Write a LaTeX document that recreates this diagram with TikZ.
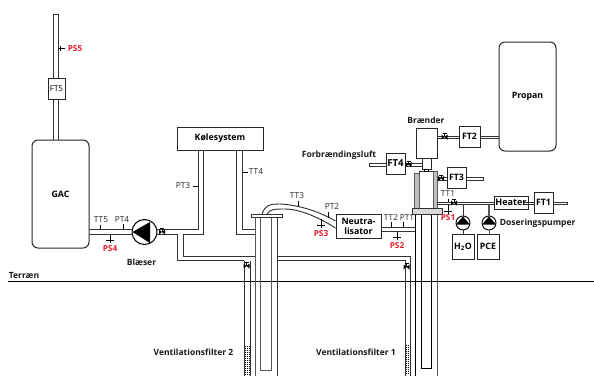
\documentclass[tikz,border=0pt]{standalone}
\usepackage{fontspec}
\setmainfont{Open Sans}
\definecolor{psred}{RGB}{225,30,45}
\tikzset{
  boxn/.style={draw=black!85,line width=0.75pt,fill=white,inner sep=0pt,align=center,font=\fontsize{6.6}{7.6}\selectfont\bfseries},
  tank/.style={boxn,rounded corners=4.5pt},
  lbl/.style={inner sep=0pt,font=\fontsize{6.2}{7}\selectfont,text=black!85},
  blbl/.style={inner sep=0pt,font=\fontsize{6.4}{7}\selectfont\bfseries,text=black!90},
  redl/.style={inner sep=0pt,font=\fontsize{6.2}{7}\selectfont\bfseries,text=psred},
  pipe/.style={draw=black!80,line width=0.7pt},
  thin pipe/.style={draw=black!65,line width=0.7pt},
  tick/.style={draw=black,line width=0.55pt},
  wall/.style={draw=black!65,fill=black!25,line width=0.6pt}
}
\newcommand{\valvemark}[2]{%
  \fill[black] (#1-3,#2-2.5)--(#1+3,#2+2.5)--(#1+3,#2-2.5)--(#1-3,#2+2.5)--cycle;
  \draw[black,line width=0.6pt] (#1,#2)--(#1,#2-3.5) (#1-2,#2-3.5)--(#1+2,#2-3.5);}
\newcommand{\crossmark}[3]{\draw[tick] (#1,#2)--(#1,#3) (#1-4,#3-3)--(#1+4,#3-3);}
\newcommand{\hatchmark}[2]{\foreach \yy in {#2,#2.,2.5} {}%
  \foreach \yy in {0,2,...,30} {\draw[black,line width=0.6pt,dash pattern=on 1pt off 0.5pt] (#1,{346+\yy})--(#1+6,{346+\yy});}}
\begin{document}
\begin{tikzpicture}[x=0.75pt,y=-0.75pt]
\useasboundingbox (0,0) rectangle (594,376);
% ---- ground line
\coordinate (gl) at (8,281.5);
\coordinate (gr) at (594,281.5);
\draw[black,line width=0.8pt] (gl)--(gr);
\node[blbl,anchor=west] (terr) at (8.5,275) {Terræn};
% ---- boxes
\node[tank,minimum width=57\pgflinewidth*0+42.75pt,minimum height=81pt] (gac) at (60.5,194) {GAC};
\node[tank,minimum width=42.75pt,minimum height=81.75pt] (propan) at (527.5,96.5) {Propan};
\node[boxn,minimum width=64.5pt,minimum height=17.25pt] (kol) at (220,138.5) {Kølesystem};
\node[boxn,minimum width=33.75pt,minimum height=18pt,font=\fontsize{6.6}{7.4}\selectfont\bfseries] (neu) at (358.5,226) {Neutra-\\lisator};
% ---- vertical stack above GAC
\draw[pipe] (53,140)--(53,14)--(58,14)--(58,140);
\node[boxn,minimum width=12.75pt,minimum height=15.75pt,font=\fontsize{6}{7}\selectfont] (ft5) at (56.5,88.5) {FT5};
\coordinate (ps5a) at (58,48.5);
\draw[tick] (ps5a)--(65,48.5) (60.5,46)--(60.5,51);
\node[redl,anchor=west] (ps5) at (67.5,48.5) {PS5};
% ---- GAC to pump and cooling loop
\draw[pipe] (gac.east |- 0,229.5)--(198,229.5)--(198,150);
\draw[pipe] (gac.east |- 0,234.5)--(177.5,234.5)--(177.5,260.5)--(244,260.5);
\draw[pipe] (183,234.5)--(203,234.5)--(203,150);
\draw[pipe] (183,234.5)--(183,256.5)--(255,256.5);
\draw[pipe] (236,150)--(236,234.5)--(255,234.5);
\draw[pipe] (242,150)--(242,229.5)--(255,229.5);
\node[lbl] (tt5) at (101,220) {TT5};
\draw[tick] (100,224.5)--(100,229.5);
\node[lbl] (pt4) at (122,220) {PT4};
\draw[tick] (123.5,224)--(123.5,229.5);
\crossmark{110}{234.5}{243}
\node[redl] (ps4) at (110,249) {PS4};
\node[blbl] (bl) at (141.5,262.5) {Blæser};
\node[draw=black,line width=0.8pt,fill=white,circle,minimum size=18.75pt,inner sep=0pt] (pump) at (144.5,232) {};
\fill[black] (132.5,232)--(150,222)--(150,243)--cycle;
\valvemark{162}{232}
% ---- cooling labels
\node[lbl] (pt3) at (183,186) {PT3};
\draw[tick] (193,186)--(198,186);
\draw[tick] (242,172)--(248,172);
\node[lbl] (tt4) at (256,172) {TT4};
% ---- filter 2
\draw[pipe] (244,260.5)--(244,376) (250,260.5)--(250,376);
\draw[thin pipe] (255,217)--(255,376) (260.7,217)--(260.7,370)--(271,370)--(271,217);
\draw[pipe] (277,217)--(277,376);
\foreach \yy in {0,2,...,28} {\draw[black,line width=0.6pt,dash pattern=on 1pt off 0.6pt] (244.5,{346.5+\yy})--(249.5,{346.5+\yy});}
\valvemark{246.5}{266}
\draw[draw=black!80,fill=white,line width=0.7pt] (251,214)rectangle(282,217);
% ---- curved pipe to neutraliser
\draw[pipe] (262,214) .. controls (265,205) and (270,204) .. (280,204) .. controls (300,205) and (320,212) .. (neu.west |- 0,221);
\draw[pipe] (267,214) .. controls (270,209) and (275,209) .. (285,209) .. controls (300,209) and (320,218) .. (neu.west |- 0,228);
\node[lbl] (tt3) at (297,196) {TT3};
\draw[tick] (298,201)--(298,206);
\node[lbl] (pt2) at (332,207) {PT2};
\draw[tick] (328,212)--(328,217.5);
\crossmark{321}{219}{228}
\node[redl] (ps3) at (321,233.5) {PS3};
\node[blbl] (forb) at (339,155) {Forbrændingsluft};
% ---- horizontal pipe between filters
\draw[pipe] (277,256.5)--(410,256.5)--(410,376);
\draw[pipe] (277,260.5)--(405,260.5)--(405,376);
\foreach \yy in {0,2,...,28} {\draw[black,line width=0.6pt,dash pattern=on 1pt off 0.6pt] (405.5,{345.5+\yy})--(409.5,{345.5+\yy});}
\valvemark{406.5}{267}
% ---- neutraliser to filter 1
\draw[pipe] (neu.east |- 0,227)--(415.7,227);
\draw[pipe] (neu.east |- 0,231.5)--(415.7,231.5);
\node[lbl] (tt2) at (391,217.5) {TT2};
\draw[tick] (391,222)--(391,227);
\node[lbl] (pt1) at (407,217.5) {PT1};
\draw[tick] (403,222)--(403,227);
\crossmark{397}{231.5}{240}
\node[redl] (ps2) at (397,246) {PS2};
% ---- filter 1
\draw[black,line width=0.7pt] (415.7,214)--(415.7,376);
\draw[black,line width=0.7pt] (421.7,214)--(421.7,368)--(431.7,368)--(431.7,214);
\draw[thin pipe] (437.7,214)--(437.7,376);
\draw[wall] (414.5,173)rectangle(419,208);
\draw[wall] (433,171)rectangle(437,208);
\draw[pipe] (419,173)--(419,171)--(433,171);
\draw[draw=black!80,fill=black!15,line width=0.7pt] (412,208)rectangle(442,214);
% ---- burner
\node[boxn,minimum width=15.75pt,minimum height=22.5pt] (brn) at (426.5,143) {};
\node[boxn,minimum width=6.75pt,minimum height=8.25pt] (noz) at (426.5,164) {};
\draw[black,line width=0.6pt,fill=white] (424.5,169.5) rectangle (428.5,171.5);
\node[blbl] (brl) at (426,120) {Brænder};
\node[boxn,minimum width=14.25pt,minimum height=15.75pt,font=\fontsize{7.2}{8}\selectfont\bfseries] (ft4) at (395.5,163.5) {FT4};
\draw[pipe,line width=0.6pt] (369,163)--(ft4.west |- 0,163) (369,166)--(ft4.west |- 0,166) (369,163)--(369,166);
\draw[pipe,line width=0.6pt] (ft4.east |- 0,163)--(noz.west |- 0,163) (ft4.east |- 0,166)--(noz.west |- 0,166);
\valvemark{408.5}{164.5}
% ---- FT2 / propane
\node[boxn,minimum width=15.75pt,minimum height=15.75pt] (ft2) at (469.5,136.5) {FT2};
\draw[pipe,line width=0.6pt] (brn.east |- 0,136)--(ft2.west |- 0,136) (brn.east |- 0,138)--(ft2.west |- 0,138);
\draw[pipe,line width=0.6pt] (ft2.east |- 0,136)--(propan.west |- 0,136) (ft2.east |- 0,138)--(propan.west |- 0,138);
\valvemark{444.5}{137}
% ---- FT3
\node[boxn,minimum width=14.25pt,minimum height=15.75pt] (ft3) at (456.5,177.5) {FT3};
\draw[pipe,line width=0.6pt] (437,177)--(ft3.west |- 0,177) (437,180)--(ft3.west |- 0,180);
\draw[pipe,line width=0.6pt] (ft3.east |- 0,177)--(483,177)--(483,180)--(ft3.east |- 0,180);
\valvemark{441}{178.5}
% ---- dosing line
\node[boxn,minimum width=25.5pt,minimum height=9.75pt,font=\fontsize{6.8}{8}\selectfont\bfseries] (heat) at (511,202.5) {Heater};
\node[boxn,minimum width=14.25pt,minimum height=15.75pt] (ft1) at (543.5,202.5) {FT1};
\draw[pipe,line width=0.6pt] (437,202)--(heat.west |- 0,202) (437,204.5)--(heat.west |- 0,204.5);
\draw[pipe,line width=0.6pt] (524,202)--(ft1.west |- 0,202) (524,204.5)--(ft1.west |- 0,204.5);
\draw[pipe,line width=0.6pt] (ft1.east |- 0,202)--(567,202)--(567,204.5)--(ft1.east |- 0,204.5);
\valvemark{454}{203}
\node[lbl] (tt1) at (448,194) {TT1};
\draw[tick] (448,198.5)--(448,202);
\crossmark{448}{204.5}{214}
\node[redl] (ps1) at (448,218) {PS1};
\node[boxn,minimum width=16.5pt,minimum height=18.75pt] (h2o) at (463,246.5) {H\textsubscript{2}O};
\node[boxn,minimum width=16.5pt,minimum height=18.75pt] (pce) at (488,246.5) {PCE};
\node[draw=black,line width=0.7pt,fill=white,circle,minimum size=10.5pt,inner sep=0pt] (p1) at (463,223) {};
\node[draw=black,line width=0.7pt,fill=white,circle,minimum size=10.5pt,inner sep=0pt] (p2) at (489,223) {};
\draw[pipe] (463,204.5)--(p1.north) (p1.south)--(h2o.north);
\draw[thin pipe,line width=1pt] (489,204.5)--(p2.north);
\draw[thin pipe] (p2.south)--(p2.south |- pce.north);
\fill[black] (463,216.5)--(456,224.5)--(470,224.5)--cycle;
\fill[black] (489,216.5)--(482,224.5)--(496,224.5)--cycle;
\node[blbl,anchor=west] (dos) at (499.5,223) {Doseringspumper};
\node[blbl] (vf2) at (193.5,352) {Ventilationsfilter 2};
\node[blbl] (vf1) at (356,352) {Ventilationsfilter 1};
\end{tikzpicture}
\end{document}
